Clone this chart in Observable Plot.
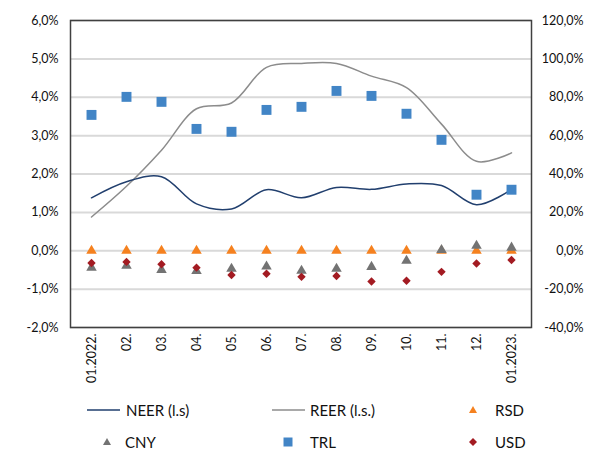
<!DOCTYPE html>
<html><head><meta charset="utf-8">
<script src="https://cdn.jsdelivr.net/npm/d3@7"></script>
<script src="https://cdn.jsdelivr.net/npm/@observablehq/plot@0.6"></script>
<style>
body{margin:0;background:#fff;font-family:Lato,sans-serif;}
#wrap{position:relative;width:595px;height:450px;overflow:hidden;}
#legend{position:absolute;left:0;top:390px;width:595px;height:60px;}
.lt{position:absolute;font-size:15px;color:#111;line-height:18px;transform:translateY(-50%);white-space:nowrap;}
.ls{position:absolute;}
</style></head><body>
<div id="wrap"><div id="chart"></div><div id="legend"></div></div>
<script>
const months = ["01.2022.","02.","03.","04.","05.","06.","07.","08.","09.","10.","11.","12.","01.2023."];
const neer = [1.38,1.80,1.93,1.22,1.09,1.59,1.38,1.65,1.60,1.74,1.70,1.20,1.60];
const reer = [0.88,1.68,2.62,3.70,3.85,4.78,4.88,4.88,4.55,4.25,3.30,2.33,2.55];
const rsd  = [0,0,0,0,0,0,0,0,0,0,0,0,0];
const cny  = [-0.44,-0.39,-0.50,-0.53,-0.47,-0.41,-0.52,-0.47,-0.42,-0.26,0.02,0.13,0.08];
const trlRight = [70.8,80.2,77.6,63.5,62.0,73.4,75.0,83.3,80.7,71.4,57.8,29.2,31.8];
const usd  = [-0.32,-0.29,-0.35,-0.44,-0.63,-0.60,-0.68,-0.66,-0.80,-0.78,-0.55,-0.33,-0.24];
const yTicks = [-2,-1,0,1,2,3,4,5,6];
const rightFactor = 20;

const colors = {neer:"#213f6e", reer:"#8c8c8c", rsd:"#f5811f", cny:"#737373", trl:"#4285c6", usd:"#a31b22"};

const rows = months.map((m,i)=>({m, neer:neer[i], reer:reer[i], rsd:rsd[i], cny:cny[i], trl:trlRight[i]/rightFactor, usd:usd[i]}));
const fmtL = d => d.toFixed(1).replace(".", ",") + "%";
const fmtR = d => (d*rightFactor).toFixed(1).replace(".", ",") + "%";

const chart = Plot.plot({
  width:595, height:390,
  marginLeft:70, marginRight:64, marginTop:20, marginBottom:63,
  style:{fontFamily:"Lato, sans-serif", fontSize:"12.5px", color:"#111", background:"white", overflow:"visible"},
  x:{type:"point", domain:months, padding:0.5},
  y:{domain:[-2,6]},
  marks:[
    Plot.gridY(yTicks, {stroke:"#d9d9d9", strokeWidth:2, strokeOpacity:1}),
    Plot.frame({stroke:"#404040", strokeWidth:1.5}),
    Plot.axisY(yTicks, {anchor:"left", tickSize:0, tickPadding:12, tickFormat:fmtL, label:null}),
    Plot.axisY(yTicks, {anchor:"right", tickSize:0, tickPadding:0, dx:52, textAnchor:"end", tickFormat:fmtR, label:null}),
    Plot.axisX({tickSize:0, tickPadding:6, tickRotate:-90, label:null}),
    Plot.line(rows, {x:"m", y:"reer", stroke:colors.reer, strokeWidth:1.5, curve:"catmull-rom"}),
    Plot.line(rows, {x:"m", y:"neer", stroke:colors.neer, strokeWidth:1.5, curve:"catmull-rom"}),
    Plot.dot(rows, {x:"m", y:"rsd", symbol:"triangle", r:3.9, fill:colors.rsd, stroke:null}),
    Plot.dot(rows, {x:"m", y:"cny", symbol:"triangle", r:3.9, fill:colors.cny, stroke:null}),
    Plot.dot(rows, {x:"m", y:"trl", symbol:"square", r:5.6, fill:colors.trl, stroke:null}),
    Plot.dot(rows, {x:"m", y:"usd", symbol:"diamond2", r:3.8, fill:colors.usd, stroke:null})
  ]
});
document.getElementById("chart").appendChild(chart);

// legend
const legend = document.getElementById("legend");
const items = [
  {name:"NEER (l.s)", type:"line", color:colors.neer, x0:87, x1:120, tx:126, y:20},
  {name:"REER (l.s.)", type:"line", color:colors.reer, x0:272, x1:305, tx:310, y:20},
  {name:"RSD", type:"tri", color:colors.rsd, cx:473, tx:495, y:20},
  {name:"CNY", type:"tri", color:colors.cny, cx:107, tx:125, y:52},
  {name:"TRL", type:"sq", color:colors.trl, cx:288, tx:310, y:52},
  {name:"USD", type:"dia", color:colors.usd, cx:473, tx:495, y:52}
];
const ns = "http://www.w3.org/2000/svg";
for (const it of items) {
  const svg = document.createElementNS(ns, "svg");
  svg.setAttribute("class", "ls");
  let shape;
  if (it.type === "line") {
    svg.setAttribute("width", it.x1 - it.x0); svg.setAttribute("height", 4);
    svg.style.left = it.x0 + "px"; svg.style.top = (it.y - 2) + "px";
    shape = document.createElementNS(ns, "line");
    shape.setAttribute("x1", 0); shape.setAttribute("x2", it.x1 - it.x0);
    shape.setAttribute("y1", 2); shape.setAttribute("y2", 2);
    shape.setAttribute("stroke", it.color); shape.setAttribute("stroke-width", 1.5);
  } else {
    svg.setAttribute("width", 12); svg.setAttribute("height", 12);
    svg.style.left = (it.cx - 6) + "px"; svg.style.top = (it.y - 6) + "px";
    shape = document.createElementNS(ns, "path");
    const d = it.type === "tri" ? "M6,2L10,9L2,9Z" : it.type === "sq" ? "M1.5,1.5H10.5V10.5H1.5Z" : "M6,2L10,6L6,10L2,6Z";
    shape.setAttribute("d", d); shape.setAttribute("fill", it.color);
  }
  svg.appendChild(shape);
  legend.appendChild(svg);
  const t = document.createElement("div");
  t.className = "lt"; t.textContent = it.name;
  t.style.left = it.tx + "px"; t.style.top = it.y + "px";
  legend.appendChild(t);
}
</script>
</body></html>
